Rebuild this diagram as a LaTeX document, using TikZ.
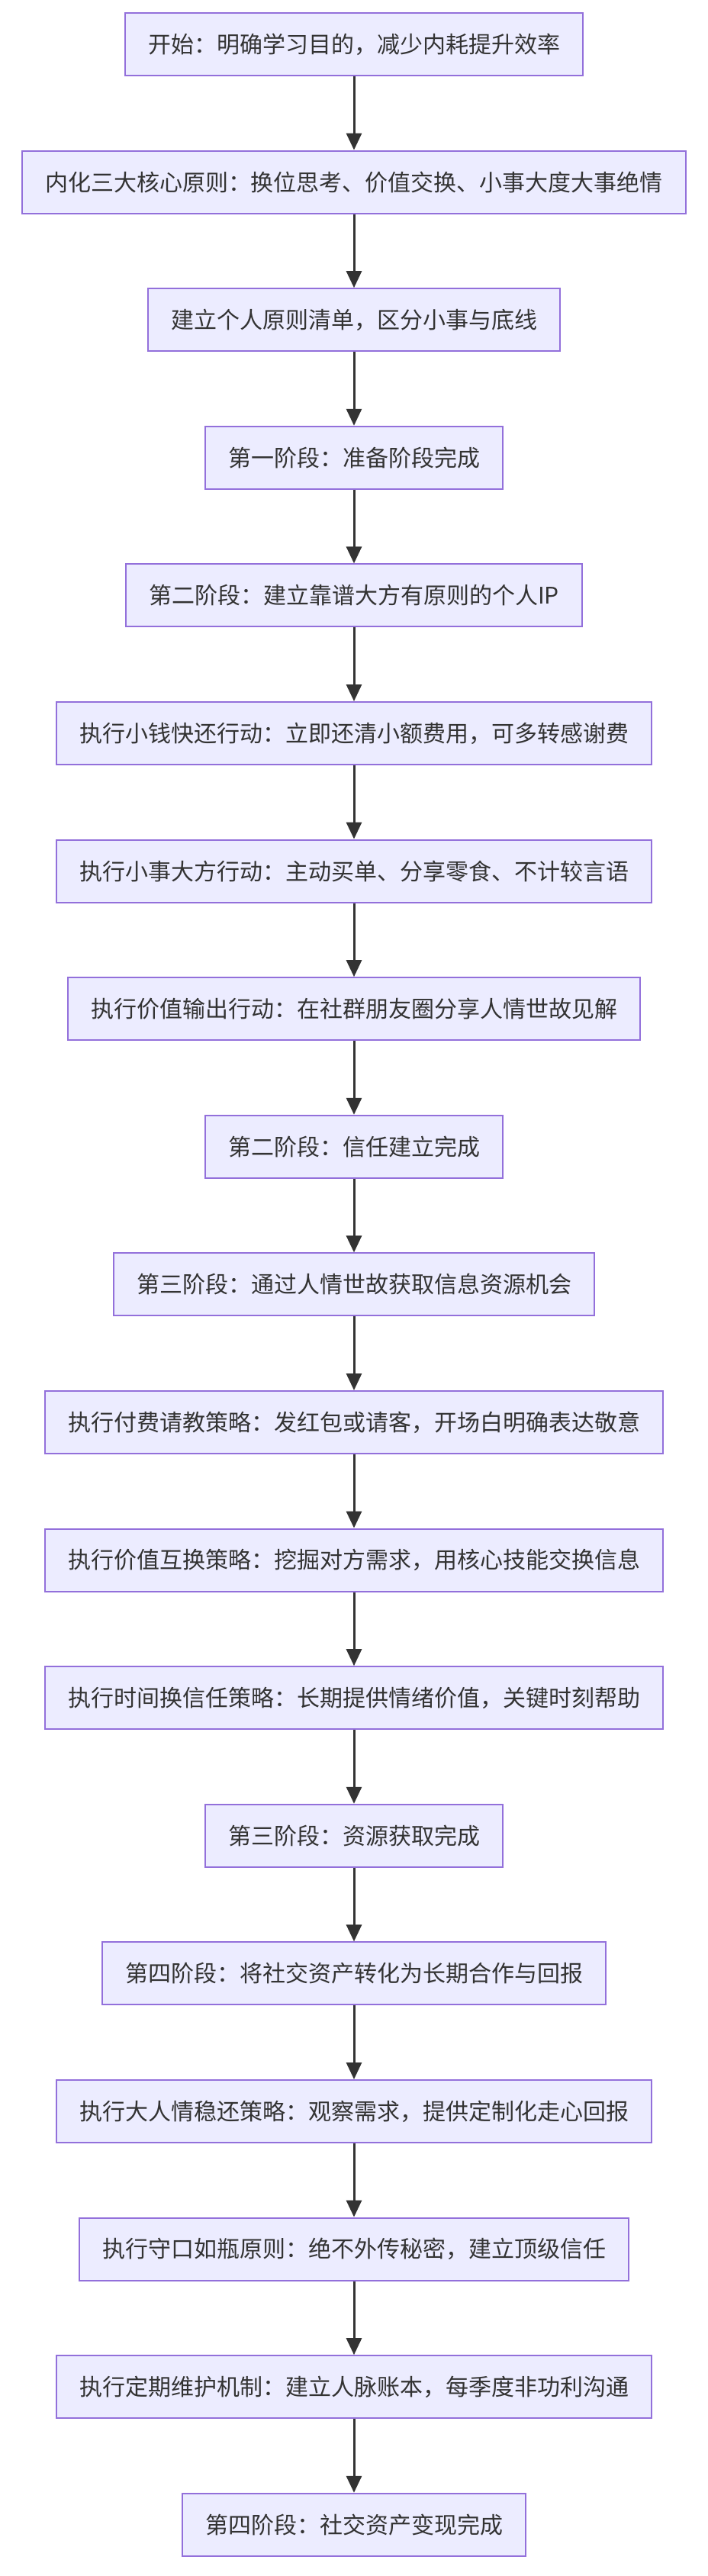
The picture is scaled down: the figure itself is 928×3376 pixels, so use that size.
\documentclass[tikz,border=0pt]{standalone}
\usepackage{fontspec}
\setmainfont{Noto Sans CJK SC}
\usetikzlibrary{arrows.meta}
\definecolor{nfill}{HTML}{ECECFF}
\definecolor{nborder}{HTML}{9370DB}
\definecolor{arr}{HTML}{333333}
\begin{document}
\begin{tikzpicture}[x=1pt,y=1pt,
  box/.style={draw=nborder,fill=nfill,line width=2pt,minimum height=82pt,inner xsep=30pt,font=\fontsize{30}{36}\selectfont,text=arr},
  conn/.style={draw=arr,line width=3pt,-{Triangle[length=22pt,width=20pt]}}]
\useasboundingbox (0,0) rectangle (928,-3376);
\foreach \t [count=\i from 0] in {
开始：明确学习目的，减少内耗提升效率,
内化三大核心原则：换位思考、价值交换、小事大度大事绝情,
建立个人原则清单，区分小事与底线,
第一阶段：准备阶段完成,
第二阶段：建立靠谱大方有原则的个人IP,
执行小钱快还行动：立即还清小额费用，可多转感谢费,
执行小事大方行动：主动买单、分享零食、不计较言语,
执行价值输出行动：在社群朋友圈分享人情世故见解,
第二阶段：信任建立完成,
第三阶段：通过人情世故获取信息资源机会,
执行付费请教策略：发红包或请客，开场白明确表达敬意,
执行价值互换策略：挖掘对方需求，用核心技能交换信息,
执行时间换信任策略：长期提供情绪价值，关键时刻帮助,
第三阶段：资源获取完成,
第四阶段：将社交资产转化为长期合作与回报,
执行大人情稳还策略：观察需求，提供定制化走心回报,
执行守口如瓶原则：绝不外传秘密，建立顶级信任,
执行定期维护机制：建立人脉账本，每季度非功利沟通,
第四阶段：社交资产变现完成}
{ \node[box] (n\i) at (464,{-58-\i*180.6}) {\t}; }
\foreach \i [evaluate=\i as \j using int(\i+1)] in {0,...,17}
{ \draw[conn] (n\i) -- (n\j); }
\end{tikzpicture}
\end{document}
